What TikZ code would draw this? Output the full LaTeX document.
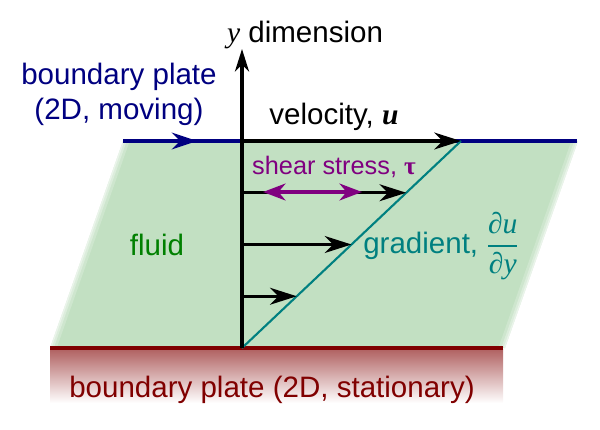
\documentclass[tikz,border=0pt]{standalone}
\usepackage{fontspec}
\usepackage{amsmath}
\setmainfont{Liberation Sans}
\newfontfamily\serifface{Liberation Serif}
\usetikzlibrary{arrows.meta,calc}
\definecolor{fluidgreen}{RGB}{194,224,194}
\definecolor{navyblue}{RGB}{0,0,128}
\definecolor{plate}{RGB}{128,0,0}
\definecolor{tealc}{RGB}{0,128,128}
\definecolor{purp}{RGB}{128,0,128}
\definecolor{darkgreen}{RGB}{0,128,0}
\tikzset{
  lab/.style={font=\fontsize{21}{25}\selectfont, inner sep=0pt},
  vel/.style={line width=2.2pt, -{Stealth[length=19pt,width=12pt,inset=6pt]}},
  soft/.style={white, line width=#1},
}

\begin{document}
\begin{tikzpicture}[x=0.025cm,y=-0.025cm]
\useasboundingbox (0,0) rectangle (600,429);

% fluid between the plates
\fill[fluidgreen] (123,141) -- (578,141) -- (505,348) -- (50,348) -- cycle;
\begin{scope}
\clip (123,141) -- (578,141) -- (505,348) -- (50,348) -- cycle;
\draw[soft=9pt, opacity=0.2] (123,141) -- (50,348) (578,141) -- (505,348);
\draw[soft=5pt, opacity=0.3] (123,141) -- (50,348) (578,141) -- (505,348);
\draw[soft=2pt, opacity=0.4] (123,141) -- (50,348) (578,141) -- (505,348);
\end{scope}

% stationary plate
\shade[top color=plate!62!white, bottom color=white] (50,349) rectangle (503,403);
\draw[plate, line width=2.2pt] (50,348) -- (503,348);

% moving plate
\coordinate (pl) at (123,141);
\coordinate (pm) at (197,141);
\coordinate (pr) at (577,141);
\draw[navyblue, line width=2.2pt] (pl) -- (pr);
\draw[navyblue, line width=2.2pt, -{Stealth[length=18pt,width=12pt,inset=6pt]}] (pl) -- (pm);

\coordinate (o) at (242,348);
\coordinate (a) at (242,141);
\coordinate (v) at (461,141);
\coordinate (ytip) at (242,49);

% profile
\draw[tealc, line width=1.5pt] (o) -- (v);
\draw[line width=2.2pt, -{Stealth[length=16pt,width=10pt,inset=5pt]}] (o) -- (ytip);

\draw[vel] (a) -- (v);
\draw[vel] ($(o)!0.75!(a)$) -- ($(o)!0.75!(v)$);
\draw[vel] ($(o)!0.5!(a)$) -- ($(o)!0.5!(v)$);
\draw[vel] ($(o)!0.25!(a)$) -- ($(o)!0.25!(v)$);

% shear
\coordinate (s1) at (263,192);
\coordinate (s2) at (362,192);
\draw[purp, line width=2.2pt, {Stealth[length=16pt,width=12pt,inset=5pt]}-{Stealth[length=16pt,width=12pt,inset=5pt]}] (s1) -- (s2);

% labels
\node[lab] (ydim) at (305,35) {{\serifface\itshape y} dimension};
\node[lab, navyblue, align=center] (moving) at (119,94) {boundary plate\\(2D, moving)};
\node[lab] (velocity) at (334,117) {velocity, {\serifface\bfseries\itshape u}};
\node[lab, purp, font=\fontsize{18}{22}\selectfont] (shear) at (334,167) {shear stress, {\serifface\bfseries τ}};
\node[lab, darkgreen] (fluid) at (157,245) {fluid};
\node[lab, tealc, anchor=west] (gradient) at (363,246) {gradient, $\dfrac{\text{\serifface\itshape ∂u}}{\text{\serifface\itshape ∂y}}$};
\node[lab, plate] (fixed) at (272,390) {boundary plate (2D, stationary)};
\end{tikzpicture}
\end{document}
